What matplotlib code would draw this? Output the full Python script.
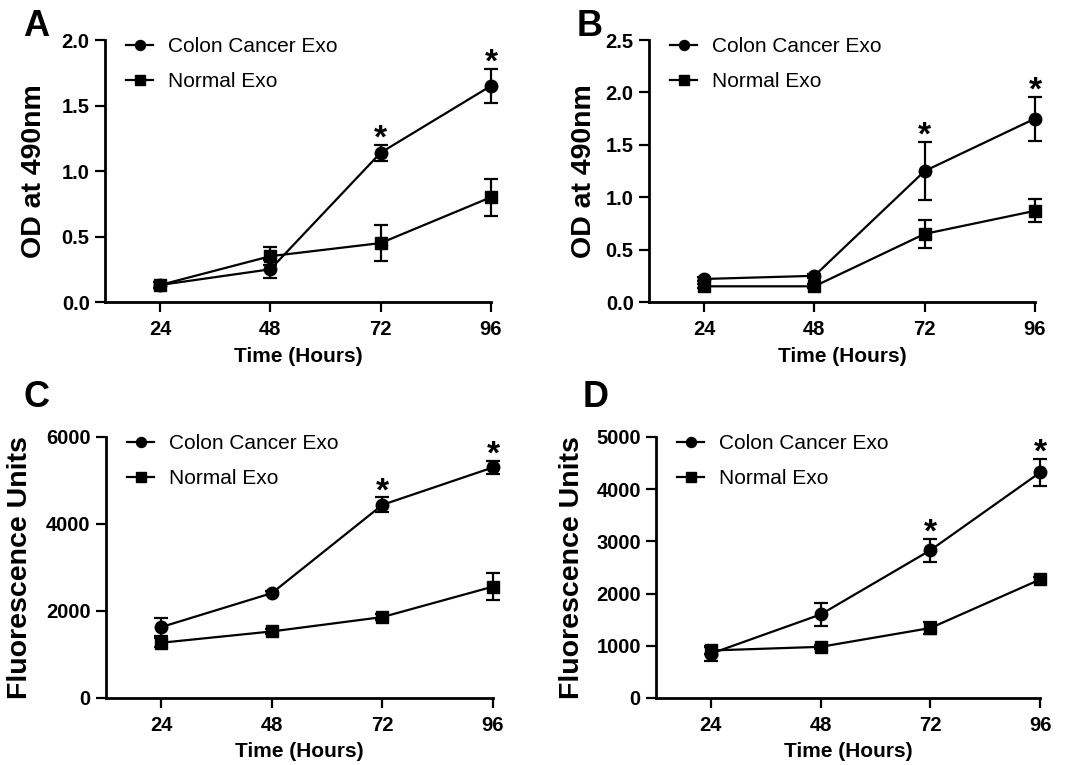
import matplotlib
matplotlib.use("Agg")
import matplotlib.pyplot as plt
import numpy as np

plt.rcParams['font.family'] = ['Liberation Sans', 'DejaVu Sans']

hours = [24, 48, 72, 96]
labels = ["Colon Cancer Exo", "Normal Exo"]

# Panel A
a_cancer = [0.13, 0.25, 1.14, 1.65]
a_cancer_err = [0.02, 0.07, 0.06, 0.13]
a_normal = [0.13, 0.35, 0.45, 0.80]
a_normal_err = [0.02, 0.07, 0.14, 0.14]
a_yticks = [0.0, 0.5, 1.0, 1.5, 2.0]
a_yticklabels = ["0.0", "0.5", "1.0", "1.5", "2.0"]

# Panel B
b_cancer = [0.22, 0.25, 1.25, 1.75]
b_cancer_err = [0.02, 0.02, 0.28, 0.21]
b_normal = [0.15, 0.15, 0.65, 0.87]
b_normal_err = [0.02, 0.02, 0.13, 0.11]
b_yticks = [0.0, 0.5, 1.0, 1.5, 2.0, 2.5]
b_yticklabels = ["0.0", "0.5", "1.0", "1.5", "2.0", "2.5"]

# Panel C
c_cancer = [1630, 2410, 4440, 5300]
c_cancer_err = [210, 40, 170, 150]
c_normal = [1270, 1530, 1860, 2560]
c_normal_err = [100, 60, 60, 310]
c_yticks = [0, 2000, 4000, 6000]
c_yticklabels = ["0", "2000", "4000", "6000"]

# Panel D
d_cancer = [850, 1600, 2830, 4320]
d_cancer_err = [150, 220, 220, 260]
d_normal = [910, 980, 1340, 2270]
d_normal_err = [60, 40, 120, 50]
d_yticks = [0, 1000, 2000, 3000, 4000, 5000]
d_yticklabels = ["0", "1000", "2000", "3000", "4000", "5000"]

sig_hours = [72, 96]

fig = plt.figure(figsize=(10.65, 7.65), dpi=100)

panels = [
    dict(letter="A", rect=[0.0986, 0.6052, 0.3624, 0.3425], cancer=a_cancer, cerr=a_cancer_err,
         normal=a_normal, nerr=a_normal_err, yticks=a_yticks, ytl=a_yticklabels,
         ylabel="OD at 490nm", ylabx=-0.150, letterxy=(0.022, 0.966)),
    dict(letter="B", rect=[0.6094, 0.6052, 0.3624, 0.3425], cancer=b_cancer, cerr=b_cancer_err,
         normal=b_normal, nerr=b_normal_err, yticks=b_yticks, ytl=b_yticklabels,
         ylabel="OD at 490nm", ylabx=-0.135, letterxy=(0.541, 0.966)),
    dict(letter="C", rect=[0.0995, 0.0876, 0.3634, 0.3412], cancer=c_cancer, cerr=c_cancer_err,
         normal=c_normal, nerr=c_normal_err, yticks=c_yticks, ytl=c_yticklabels,
         ylabel="Fluorescence Units", ylabx=-0.189, letterxy=(0.022, 0.481)),
    dict(letter="D", rect=[0.616, 0.0876, 0.3606, 0.3412], cancer=d_cancer, cerr=d_cancer_err,
         normal=d_normal, nerr=d_normal_err, yticks=d_yticks, ytl=d_yticklabels,
         ylabel="Fluorescence Units", ylabx=-0.185, letterxy=(0.547, 0.481)),
]

for p in panels:
    ax = fig.add_axes(p["rect"])
    ec = ax.errorbar(hours, p["cancer"], yerr=p["cerr"], color="black", marker="o", markersize=9,
                     linewidth=1.6, elinewidth=1.6, capsize=5, capthick=1.6,
                     clip_on=False, zorder=3)
    en = ax.errorbar(hours, p["normal"], yerr=p["nerr"], color="black", marker="s", markersize=8.5,
                     linewidth=1.6, elinewidth=1.6, capsize=5, capthick=1.6,
                     clip_on=False, zorder=3)
    ax.set_xlim(12, 96)
    ax.set_ylim(p["yticks"][0], p["yticks"][-1])
    ax.set_xticks(hours)
    ax.set_xticklabels([str(h) for h in hours], fontsize=14.5, fontweight="bold")
    ax.set_yticks(p["yticks"])
    ax.set_yticklabels(p["ytl"], fontsize=14.5, fontweight="bold")
    for s in ["top", "right"]:
        ax.spines[s].set_visible(False)
    for s in ["left", "bottom"]:
        ax.spines[s].set_linewidth(2)
    ax.tick_params(axis="both", direction="out", length=7, width=1.6, pad=4)
    ax.tick_params(axis="x", pad=6)
    ax.set_xlabel("Time (Hours)", fontsize=15, fontweight="bold")
    ax.xaxis.set_label_coords(0.5, -0.17)
    ax.set_ylabel(p["ylabel"], fontsize=20.5, fontweight="bold")
    ax.yaxis.set_label_coords(p["ylabx"], 0.5)
    # significance markers
    for h in sig_hours:
        i = hours.index(h)
        ax.annotate("*", xy=(h, p["cancer"][i] + p["cerr"][i]), xytext=(0, 4),
                    textcoords="offset points", ha="center", va="center",
                    fontsize=24, fontweight="bold", annotation_clip=False)
    ax.legend([ec.lines[0], en.lines[0]], labels, loc="upper left",
              bbox_to_anchor=(0.055, 1.01), frameon=False,
              fontsize=15, handlelength=1.3, handletextpad=0.7, labelspacing=0.75,
              borderaxespad=0, borderpad=0, markerscale=0.8)
    fig.text(p["letterxy"][0], p["letterxy"][1], p["letter"], fontsize=26, fontweight="bold",
             ha="left", va="center")

fig.savefig("out.png", dpi=100)
